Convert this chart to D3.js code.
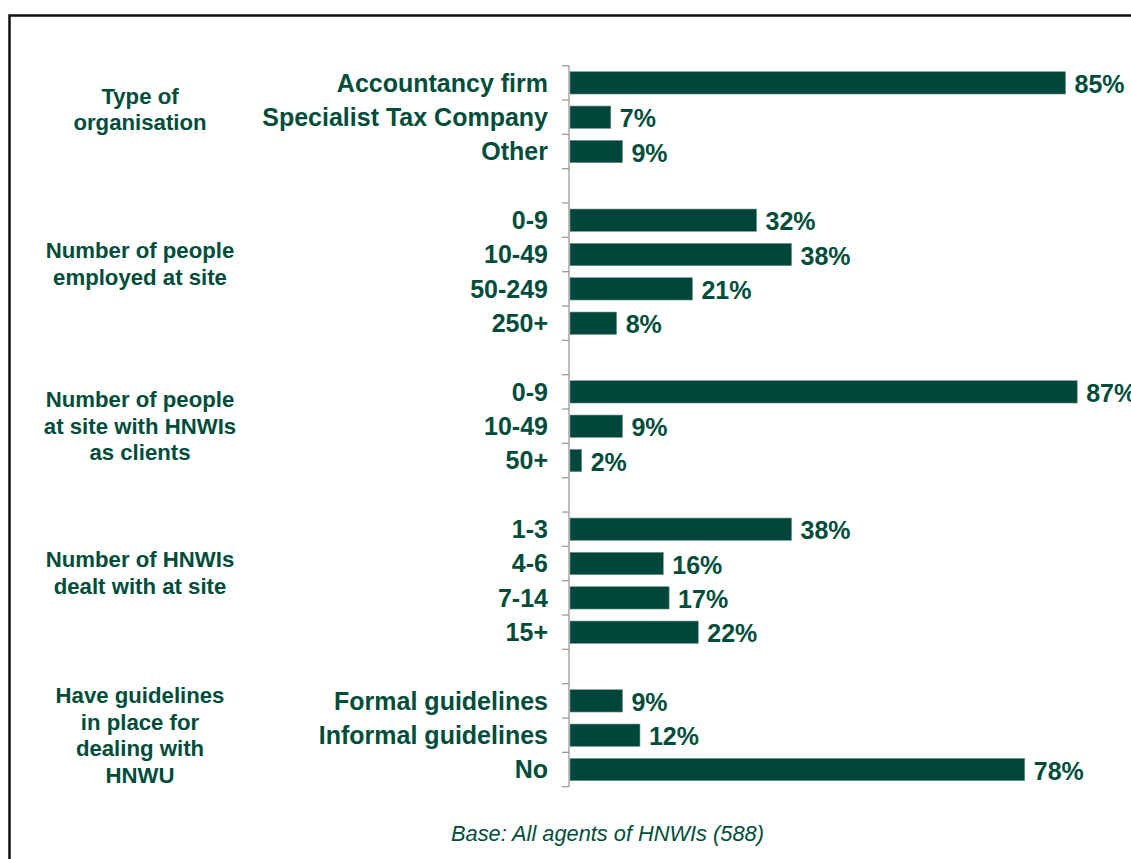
<!DOCTYPE html>
<html>
<head>
<meta charset="utf-8">
<script src="https://cdn.jsdelivr.net/npm/d3@7/dist/d3.min.js"></script>
<style>
  html, body { margin: 0; padding: 0; background: #fff; }
  svg { display: block; }
  text { font-family: "Liberation Sans", Arial, sans-serif; }
</style>
</head>
<body>
<svg id="chart" width="1131" height="859"></svg>
<script>
// Survey profile: agents of HNWIs, share of respondents per answer (%)
const groupNames = [
  ["Type of", "organisation"],
  ["Number of people", "employed at site"],
  ["Number of people", "at site with HNWIs", "as clients"],
  ["Number of HNWIs", "dealt with at site"],
  ["Have guidelines", "in place for", "dealing with", "HNWU"]
];
const orgCategories = ["Accountancy firm", "Specialist Tax Company", "Other"];
const orgValues = [85, 7, 9];
const staffCategories = ["0-9", "10-49", "50-249", "250+"];
const staffValues = [32, 38, 21, 8];
const hnwiStaffCategories = ["0-9", "10-49", "50+"];
const hnwiStaffValues = [87, 9, 2];
const hnwiCountCategories = ["1-3", "4-6", "7-14", "15+"];
const hnwiCountValues = [38, 16, 17, 22];
const guidelineCategories = ["Formal guidelines", "Informal guidelines", "No"];
const guidelineValues = [9, 12, 78];
const baseNote = "Base: All agents of HNWIs (588)";

const groups = [
  [orgCategories, orgValues],
  [staffCategories, staffValues],
  [hnwiStaffCategories, hnwiStaffValues],
  [hnwiCountCategories, hnwiCountValues],
  [guidelineCategories, guidelineValues]
];

// Flatten into rows, with an empty spacer row between groups
const rows = [];
groups.forEach(([cats, vals], g) => {
  if (g > 0) rows.push({ id: "gap" + g, blank: true, group: g });
  cats.forEach((c, i) => rows.push({ id: g + "-" + i, label: c, value: vals[i], group: g }));
});

const green = "#00463a";
const textGreen = "#004d3b";
const svg = d3.select("#chart");

// Frame
svg.append("rect")
  .attr("x", 9.5).attr("y", 15.5)
  .attr("width", 1300).attr("height", 1000)
  .attr("fill", "none").attr("stroke", "#111").attr("stroke-width", 2.5);

const x = d3.scaleLinear().domain([0, 100]).range([570, 1153]);
const y = d3.scaleBand()
  .domain(rows.map(r => r.id))
  .range([65.7, 786.7])
  .paddingInner(0.35)
  .paddingOuter(0.175);
const step = y.step();

// Bars
const dataRows = rows.filter(r => !r.blank);
svg.append("g").selectAll("rect")
  .data(dataRows)
  .join("rect")
  .attr("x", x(0))
  .attr("y", d => y(d.id))
  .attr("width", d => x(d.value) - x(0))
  .attr("height", y.bandwidth())
  .attr("fill", green)
  .attr("stroke", "#6f9486")
  .attr("stroke-width", 0.6);

// Category axis: line with ticks at band boundaries
const axis = svg.append("g").attr("stroke", "#9a9a9a").attr("stroke-width", 1.3);
const [y0, y1] = y.range();
axis.append("line").attr("x1", x(0) - 1).attr("x2", x(0) - 1).attr("y1", y0).attr("y2", y1);
axis.selectAll("line.tick")
  .data(d3.range(rows.length + 1))
  .join("line")
  .attr("class", "tick")
  .attr("x1", x(0) - 8).attr("x2", x(0) - 1)
  .attr("y1", i => y0 + i * step)
  .attr("y2", i => y0 + i * step);

// Category labels
svg.append("g").selectAll("text")
  .data(dataRows)
  .join("text")
  .attr("x", x(0) - 22)
  .attr("y", d => y(d.id) + y.bandwidth() / 2)
  .attr("dy", "0.35em")
  .attr("text-anchor", "end")
  .attr("font-size", 25)
  .attr("font-weight", "bold")
  .attr("fill", textGreen)
  .text(d => d.label);

// Value labels
svg.append("g").selectAll("text")
  .data(dataRows)
  .join("text")
  .attr("x", d => x(d.value) + 9)
  .attr("y", d => y(d.id) + y.bandwidth() / 2 + 1.5)
  .attr("dy", "0.35em")
  .attr("font-size", 25)
  .attr("font-weight", "bold")
  .attr("fill", textGreen)
  .text(d => d.value + "%");

// Group labels, centred on each group's rows
const lineH = 26.5;
groupNames.forEach((lines, g) => {
  const gr = dataRows.filter(r => r.group === g);
  const top = y(gr[0].id);
  const bottom = y(gr[gr.length - 1].id) + y.bandwidth();
  const nudge = lines.length === 2 ? -8 : 0;
  const cy = (top + bottom) / 2 + nudge;
  const t = svg.append("text")
    .attr("text-anchor", "middle")
    .attr("font-size", 22.2)
    .attr("font-weight", "bold")
    .attr("fill", textGreen);
  lines.forEach((ln, i) => {
    t.append("tspan")
      .attr("x", 140)
      .attr("y", cy + (i - (lines.length - 1) / 2) * lineH)
      .attr("dy", "0.35em")
      .text(ln);
  });
});

// Base note
svg.append("text")
  .attr("x", 607.5)
  .attr("y", 833)
  .attr("dy", "0.35em")
  .attr("text-anchor", "middle")
  .attr("font-size", 21.8)
  .attr("font-style", "italic")
  .attr("fill", textGreen)
  .text(baseNote);
</script>
</body>
</html>
